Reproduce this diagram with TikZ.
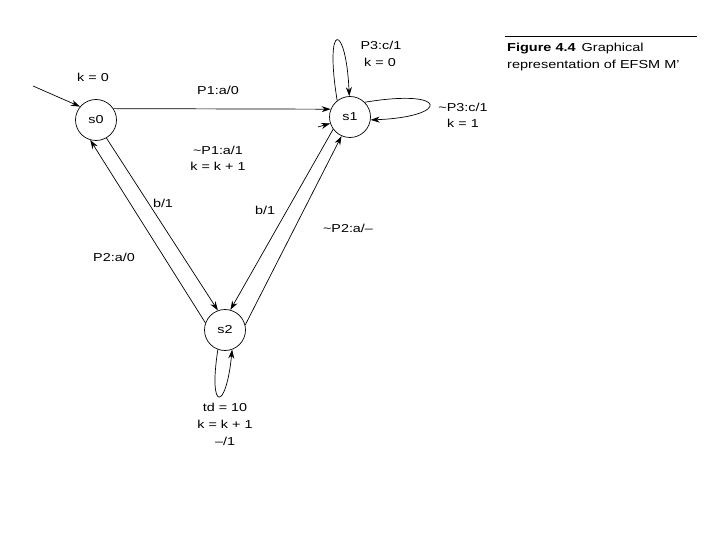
\documentclass[tikz,border=0pt]{standalone}
\usepackage{fontspec}
\setmainfont[FakeStretch=1.25]{Liberation Sans}
\usetikzlibrary{arrows.meta}
\begin{document}
\begin{tikzpicture}[x=1pt,y=-1pt,
  state/.style={circle,draw,line width=0.7pt,minimum size=41pt,inner sep=0pt,font=\fontsize{11.5}{13}\selectfont},
  lbl/.style={font=\fontsize{11.5}{13}\selectfont,inner sep=0pt},
  captxt/.style={font=\fontsize{11.6}{13}\selectfont,inner sep=0pt,anchor=west},
  tr/.style={line width=0.7pt,-{Stealth[length=9pt,width=6pt]}},
  ln/.style={line width=0.7pt}]
\useasboundingbox (0,0) rectangle (720,540);
\node[state] (s0) at (96,120) {s0};
\node[state] (s1) at (350,117) {s1};
\node[state] (s2) at (225,330) {s2};
\coordinate (init) at (33,86);
\coordinate (stub) at (318,127);
% transitions
\draw[tr] (init) -- (s0.140);
\draw[tr] (s0.33) -- (s1.158);
\draw[tr] (stub) -- (s1.198);
\draw[tr] (s2.160) -- (s0.254);
\draw[tr] (s0.300) -- (s2.110);
\draw[tr] (s1.216) -- (s2.75);
\draw[tr] (s2.14) -- (s1.246);
\draw[tr] (s1.128) .. controls (324,20) and (346,22) .. (s1.92);
\draw[tr] (s1.45) .. controls (450,88) and (450,117) .. (s1.-8);
\draw[tr] (s2.250) .. controls (208,412) and (226,412) .. (s2.290);
% labels
\node[lbl] (l1) at (93,77) {k = 0};
\node[lbl] (l2) at (218,90) {P1:a/0};
\node[lbl] (l3) at (218,150) {\textasciitilde P1:a/1};
\node[lbl] (l4) at (218,166) {k = k + 1};
\node[lbl] (l5) at (163,203) {b/1};
\node[lbl] (l6) at (114,257) {P2:a/0};
\node[lbl] (l7) at (265,210) {b/1};
\node[lbl] (l8) at (348,228) {\textasciitilde P2:a/–};
\node[lbl] (l9) at (381,45) {P3:c/1};
\node[lbl] (l10) at (380,62) {k = 0};
\node[lbl] (l11) at (463,107) {\textasciitilde P3:c/1};
\node[lbl] (l12) at (463,123) {k = 1};
\node[lbl] (l13) at (225,407) {td = 10};
\node[lbl] (l14) at (225,424) {k = k + 1};
\node[lbl] (l15) at (225,441) {–/1};
% caption
\coordinate (ca) at (505,36);
\coordinate (cb) at (697,36);
\draw[line width=0.8pt] (ca) -- (cb);
\node[captxt] (c1) at (507,49) {\textbf{Figure 4.4}\, Graphical};
\node[captxt] (c2) at (507,66) {representation of EFSM M’};
\end{tikzpicture}
\end{document}
